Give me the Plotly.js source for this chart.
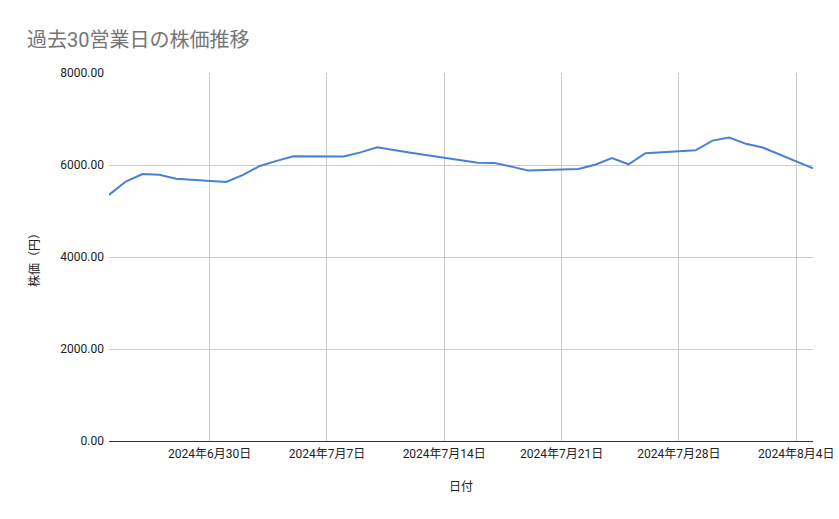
<!DOCTYPE html>
<html>
<head>
<meta charset="utf-8">
<script src="https://cdn.plot.ly/plotly-3.0.1.min.js"></script>
<style>
  html, body { margin: 0; padding: 0; background: #fff; }
  #chart { width: 839px; height: 519px; }
</style>
</head>
<body>
<div id="chart"></div>
<script>
// 過去30営業日 (7/15 海の日は休場)
var dates = [
  '2024-06-24', '2024-06-25', '2024-06-26', '2024-06-27', '2024-06-28',
  '2024-07-01', '2024-07-02', '2024-07-03', '2024-07-04', '2024-07-05',
  '2024-07-08', '2024-07-09', '2024-07-10', '2024-07-11', '2024-07-12',
  '2024-07-16', '2024-07-17', '2024-07-18', '2024-07-19',
  '2024-07-22', '2024-07-23', '2024-07-24', '2024-07-25', '2024-07-26',
  '2024-07-29', '2024-07-30', '2024-07-31', '2024-08-01', '2024-08-02',
  '2024-08-05'
];

var prices = [
  5350, 5640, 5805, 5790, 5700,
  5630, 5785, 5980, 6090, 6190,
  6185, 6275, 6385, 6325, 6265,
  6050, 6045, 5965, 5880,
  5915, 6005, 6150, 6015, 6255,
  6320, 6530, 6595, 6460, 6380,
  5930
];

var chartTitle = '過去30営業日の株価推移';
var xTitle = '日付';
var yTitle = '株価（円）';

var fontFamily = "Roboto, 'Noto Sans CJK JP', sans-serif";

var priceLine = {
  x: dates,
  y: prices,
  name: '株価',
  mode: 'lines',
  type: 'scatter',
  line: { color: '#4a7fd6', width: 2 }
};

var layout = {
  width: 839,
  height: 519,
  margin: { l: 109, r: 26, t: 73, b: 78 },
  paper_bgcolor: '#ffffff',
  plot_bgcolor: '#ffffff',
  showlegend: false,
  font: { family: fontFamily, size: 12, color: '#222222' },
  title: {
    text: chartTitle,
    font: { family: fontFamily, size: 20, color: '#757575' },
    xref: 'container',
    x: 27 / 839,
    xanchor: 'left',
    yref: 'container',
    y: 1 - 40 / 519,
    yanchor: 'middle'
  },
  xaxis: {
    type: 'date',
    range: ['2024-06-24', '2024-08-05'],
    tick0: '2024-06-30',
    dtick: 7 * 24 * 60 * 60 * 1000,
    tickformat: '%Y年%-m月%-d日',
    showgrid: true,
    gridcolor: '#cccccc',
    showline: true,
    linecolor: '#333333',
    linewidth: 1,
    ticks: '',
    ticklabelstandoff: 2,
    zeroline: false,
    tickfont: { family: fontFamily, size: 12, color: '#222222' },
    title: {
      text: xTitle,
      font: { family: fontFamily, size: 12, color: '#222222' },
      standoff: 22
    }
  },
  yaxis: {
    range: [0, 8000],
    dtick: 2000,
    tickformat: '.2f',
    showgrid: true,
    gridcolor: '#cccccc',
    zeroline: false,
    showline: false,
    ticks: '',
    ticklabelstandoff: 4,
    tickfont: { family: fontFamily, size: 12, color: '#222222' },
    title: {
      text: yTitle,
      font: { family: fontFamily, size: 12, color: '#222222' },
      standoff: 18
    }
  }
};

Plotly.newPlot('chart', [priceLine], layout, { displayModeBar: false, staticPlot: true });
</script>
</body>
</html>
